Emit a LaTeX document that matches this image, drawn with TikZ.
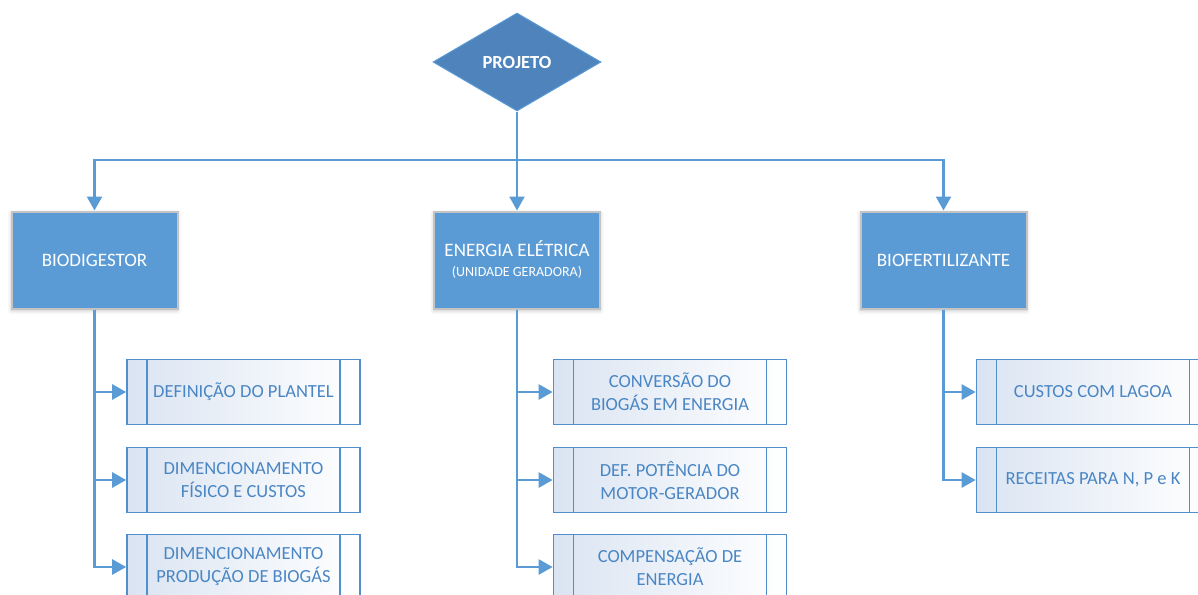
\documentclass[tikz,border=0pt]{standalone}
\usepackage{fontspec}
\setmainfont{Carlito}
\usetikzlibrary{shapes.geometric,arrows.meta,shadows.blur}
\definecolor{lineblue}{HTML}{5B9BD5}
\definecolor{darkblue}{HTML}{4E83BC}
\definecolor{subborder}{HTML}{4F8FCD}
\definecolor{subtext}{HTML}{4A86C4}
\definecolor{subfill}{HTML}{DAE4F2}
\definecolor{boxborder}{HTML}{C4C4C4}
\tikzset{
  conn/.style={draw=lineblue, line width=2.4pt, -{Triangle[length=14pt,width=15pt]}},
  plain/.style={draw=lineblue, line width=2.4pt},
  mainbox/.style={rectangle, fill=lineblue, draw=boxborder, line width=2pt,
    minimum width=166pt, minimum height=97pt, inner sep=0pt, text=white,
    font=\fontsize{19}{22}\selectfont, align=center,
    blur shadow={shadow xshift=0pt, shadow yshift=-2pt, shadow blur radius=4pt, shadow opacity=25}},
  subbox/.style={rectangle, draw=subborder, line width=1.6pt,
    left color=subfill, right color=white,
    minimum width=233pt, minimum height=65pt, inner sep=0pt, text=subtext,
    font=\fontsize{18.5}{23}\selectfont, align=center,
    path picture={
      \draw[subborder, line width=1.6pt]
        ([xshift=20pt]path picture bounding box.north west) -- ([xshift=20pt]path picture bounding box.south west)
        ([xshift=-20pt]path picture bounding box.north east) -- ([xshift=-20pt]path picture bounding box.south east);
    }},
  projbox/.style={diamond, aspect=1.714, minimum width=168pt, minimum height=98pt, inner sep=0pt,
    fill=darkblue, draw=lineblue, line width=1pt, text=white, font=\fontsize{18.5}{20}\selectfont\bfseries}
}
\begin{document}
\begin{tikzpicture}[x=1pt,y=-1pt]
\useasboundingbox (0,0) rectangle (1198,594);
\clip (0,0) rectangle (1198,594);
\node[projbox] (proj) at (517,62) {PROJETO};
\node[mainbox] (bio) at (94.5,260) {BIODIGESTOR};
\node[mainbox] (ene) at (517,260) {ENERGIA ELÉTRICA\\[-2pt]{\fontsize{14}{16}\selectfont (UNIDADE GERADORA)}};
\node[mainbox] (fert) at (943.5,260) {BIOFERTILIZANTE};
\coordinate (j) at (517,160);
\draw[plain] (proj.south) -- (j);
\draw[conn] (j) -| (bio.north);
\draw[conn] (j) -- (ene.north);
\draw[conn] (j) -| (fert.north);
% left column
\node[subbox] (b1) at (243.5,392) {DEFINIÇÃO DO PLANTEL};
\node[subbox] (b2) at (243.5,480) {DIMENCIONAMENTO\\FÍSICO E CUSTOS};
\node[subbox] (b3) at (243.5,567) {DIMENCIONAMENTO\\PRODUÇÃO DE BIOGÁS};
% middle column
\node[subbox] (e1) at (670,392) {CONVERSÃO DO\\BIOGÁS EM ENERGIA};
\node[subbox] (e2) at (670,480) {DEF. POTÊNCIA DO\\MOTOR-GERADOR};
\node[subbox] (e3) at (670,567) {COMPENSAÇÃO DE\\ENERGIA};
% right column
\node[subbox] (f1) at (1093,392) {CUSTOS COM LAGOA};
\node[subbox] (f2) at (1093,480) {RECEITAS PARA N, P e K};
\foreach \t in {b1,b2,b3} \draw[conn] (bio.south) |- (\t.west);
\foreach \t in {e1,e2,e3} \draw[conn] (ene.south) |- (\t.west);
\foreach \t in {f1,f2} \draw[conn] (fert.south) |- (\t.west);
\end{tikzpicture}
\end{document}
